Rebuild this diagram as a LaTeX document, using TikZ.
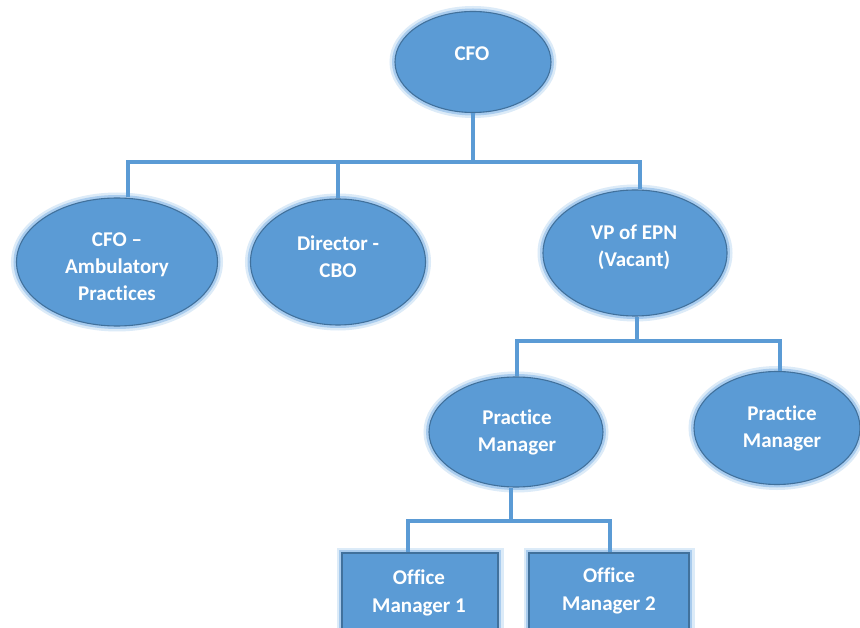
\documentclass[tikz,border=0pt]{standalone}
\usepackage{fontspec}
\setmainfont{Carlito}[Ligatures=NoCommon]
\usepackage{tikz}
\usetikzlibrary{shapes.geometric}
\definecolor{fillblue}{HTML}{5B9BD5}
\definecolor{edgeblue}{HTML}{41719C}
\definecolor{glowin}{HTML}{A9CCEE}
\definecolor{glowout}{HTML}{DCEBF8}
\definecolor{linkblue}{HTML}{5B9BD5}
\tikzset{
  glow/.style={preaction={draw=glowout, line width=11pt},
               preaction={draw=glowin, line width=6pt}},
  oval/.style={ellipse, glow, fill=fillblue, draw=edgeblue, line width=1.1pt,
               inner sep=0pt},
  box/.style={rectangle, glow, fill=fillblue, draw=edgeblue, line width=1.1pt,
              inner sep=0pt},
  txt/.style={text=white, align=center, inner sep=0pt,
              font=\fontsize{21}{27}\selectfont\bfseries},
  link/.style={draw=linkblue, line width=4.5pt},
}

\begin{document}
\begin{tikzpicture}[x=1pt,y=-1pt]
  \clip (0,0) rectangle (860,628);
  \fill[white] (0,0) rectangle (860,628);
  % ovals
  \node[oval, minimum width=156, minimum height=101] (cfo) at (473,62) {};
  \node[oval, minimum width=201, minimum height=128] (amb) at (117,262) {};
  \node[oval, minimum width=175, minimum height=126] (cbo) at (338,262) {};
  \node[oval, minimum width=184, minimum height=126] (vp) at (635,253) {};
  \node[oval, minimum width=174, minimum height=110] (pmA) at (516,432) {};
  \node[oval, minimum width=166, minimum height=113] (pmB) at (777,428) {};
  % boxes
  \node[box, minimum width=156, minimum height=78] (omA) at (420,592) {};
  \node[box, minimum width=160, minimum height=78] (omB) at (609,592) {};
  % texts
  \node[txt] (cfoT) at (472,54) {CFO};
  \node[txt] (ambT) at (117,267) {CFO --\\Ambulatory\\Practices};
  \node[txt] (cboT) at (338,257) {Director -\\CBO};
  \node[txt] (vpT) at (634,247) {VP of EPN\\(Vacant)};
  \node[txt] (pmAT) at (517,432) {Practice\\Manager};
  \node[txt] (pmBT) at (782,428) {Practice\\Manager};
  \node[txt, font=\fontsize{21}{28}\selectfont\bfseries] (omAT) at (419,593) {Office\\Manager 1};
  \node[txt, font=\fontsize{21}{28}\selectfont\bfseries] (omBT) at (609,591) {Office\\Manager 2};
  % buses
  \coordinate (busA) at (473,162);
  \coordinate (busB) at (637,341);
  \coordinate (busC) at (511,521);
  \draw[link] (cfo.south) -- (busA);
  \draw[link] ([xshift=11]amb.north) |- (busA) -| ([xshift=5]vp.north);
  \draw[link] (cbo.north) -- (cbo.north |- busA);
  \draw[link] ([xshift=2]vp.south) -- (busB);
  \draw[link] ([xshift=1]pmA.north) |- (busB) -| ([xshift=3]pmB.north);
  \draw[link] ([xshift=-5]pmA.south) -- (busC);
  \draw[link] ([xshift=-12]omA.north) |- (busC) -| ([xshift=1]omB.north);
\end{tikzpicture}
\end{document}
